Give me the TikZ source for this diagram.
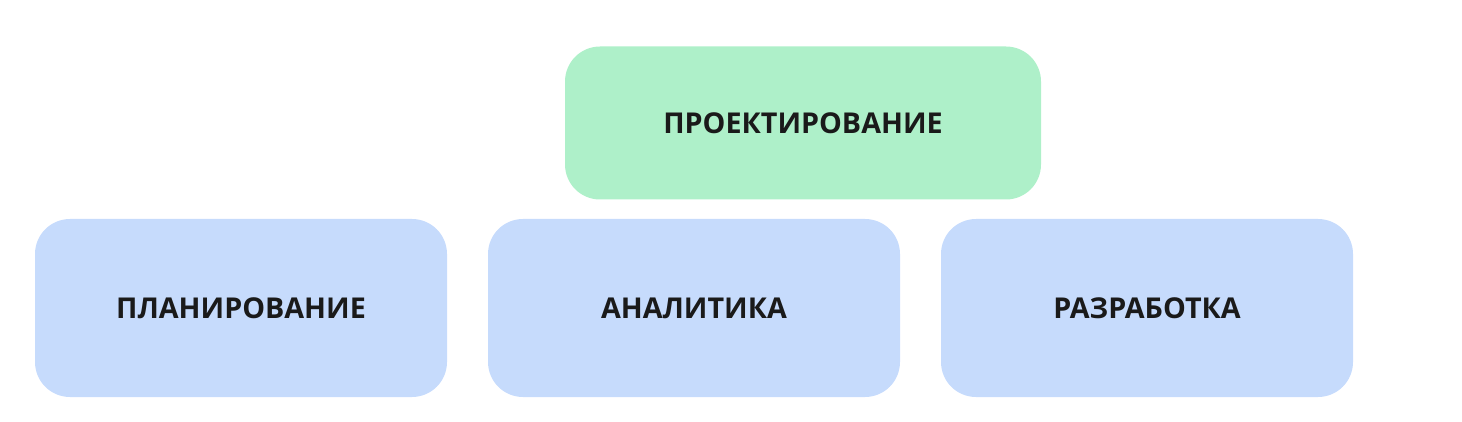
\documentclass[tikz,border=0pt]{standalone}
\usepackage{fontspec}
\setmainfont{Open Sans}
\usepackage{tikz}

\definecolor{greenBox}{RGB}{174,240,201}
\definecolor{blueBox}{RGB}{198,219,252}
\definecolor{textColor}{RGB}{26,26,26}

\begin{document}
\begin{tikzpicture}[x = 1pt, y = -1pt,
        box/.style = {rounded corners = 35pt, inner sep = 0pt, text = textColor,
            font = \fontsize{28.7}{34}\selectfont\bfseries},
        bluebox/.style = {box, fill = blueBox, minimum width = 412pt, minimum height = 178pt},
        greenbox/.style = {box, fill = greenBox, minimum width = 476pt, minimum height = 153pt}]
            \useasboundingbox (0,0) rectangle (1462,422);
            
            \node [greenbox] (design) at (803,123) {\raisebox{-1.5pt}{ПРОЕКТИРОВАНИЕ}};
            
            \node [bluebox] (planning) at (241,308) {\raisebox{-1.5pt}{ПЛАНИРОВАНИЕ}};
            \node [bluebox] (analytics) at (694,308) {\raisebox{-1.5pt}{АНАЛИТИКА}};
            \node [bluebox] (development) at (1147,308) {\raisebox{-1.5pt}{РАЗРАБОТКА}};
            
        \end{tikzpicture}
\end{document}
